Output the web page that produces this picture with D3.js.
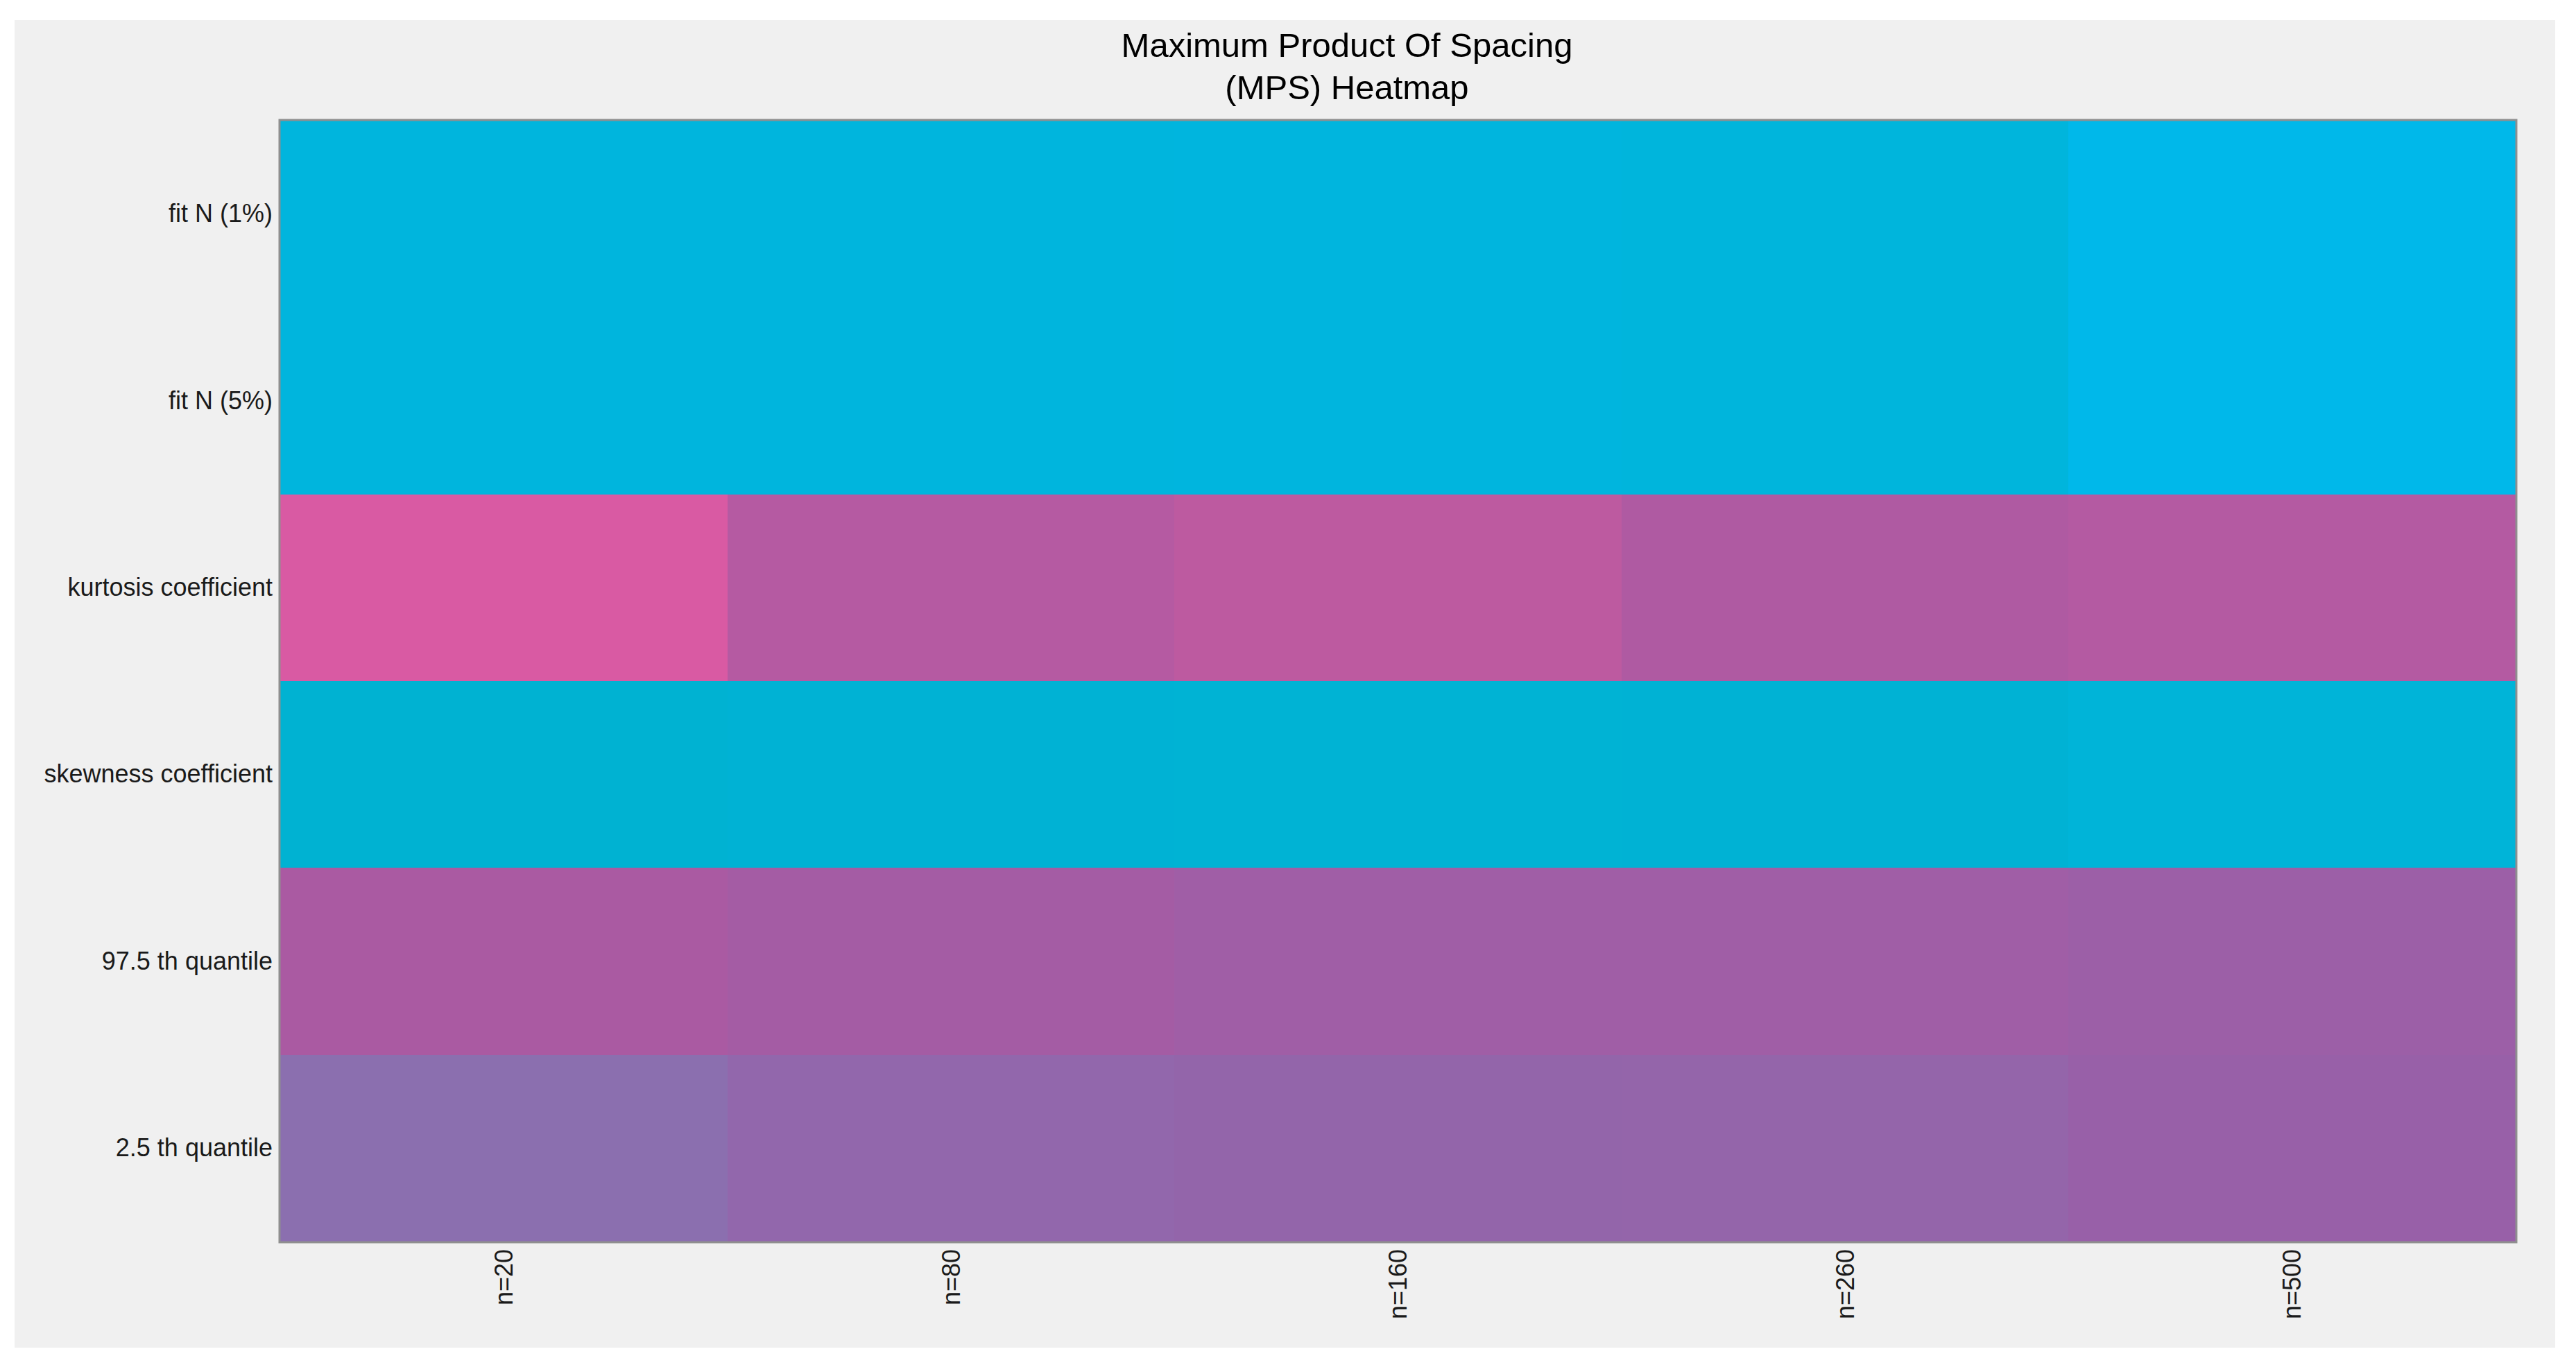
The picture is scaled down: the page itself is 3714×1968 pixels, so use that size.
<!DOCTYPE html>
<html>
<head>
<meta charset="utf-8">
<script src="https://cdn.jsdelivr.net/npm/d3@7"></script>
<style>
  body { margin: 0; background: #fff; }
  text { font-family: "Liberation Sans", Arial, sans-serif; }
</style>
</head>
<body>
<div id="container-heatmap"></div>
<script>
var sizes = ["n=20", "n=80", "n=160", "n=260", "n=500"];
var measures = ["fit N (1%)", "fit N (5%)", "kurtosis coefficient", "skewness coefficient", "97.5 th quantile", "2.5 th quantile"];

// one array per row, one value per sample size
var fitN1 = [0.055, 0.054, 0.050, 0.058, 0.0];
var fitN5 = [0.055, 0.054, 0.050, 0.058, 0.0];
var kurtosis = [1.0, 0.80, 0.85, 0.773, 0.795];
var skewness = [0.10, 0.092, 0.090, 0.092, 0.075];
var q975 = [0.75, 0.72, 0.70, 0.70, 0.65];
var q025 = [0.50, 0.55, 0.565, 0.568, 0.60];

var colorStops = [0, 0.10, 0.50, 0.60, 0.70, 0.75, 0.80, 0.85, 1.0];
var colorRange = ["#00b8ea", "#00b2d2", "#8b6faf", "#9860a8", "#a05ea6", "#aa5aa2", "#b55aa2", "#bd5aa0", "#d95aa3"];

function chartHeatmap(rows, width, height) {
  var svg = d3.select("#container-heatmap")
    .append("svg")
      .attr("width", width)
      .attr("height", height);

  svg.append("rect")
    .attr("x", 21).attr("y", 29)
    .attr("width", 3663).attr("height", 1914)
    .attr("fill", "#f0f0f0");

  var x = d3.scaleBand()
    .domain(sizes)
    .range([404, 3627]);
  var y = d3.scaleBand()
    .domain(measures)
    .range([174, 1790]);
  var color = d3.scaleLinear()
    .domain(colorStops)
    .range(colorRange);

  var cells = [];
  rows.forEach((r, i) => r.forEach((v, j) => cells.push({ row: measures[i], col: sizes[j], value: v })));

  svg.append("g")
    .attr("shape-rendering", "crispEdges")
    .selectAll("rect")
    .data(cells)
    .join("rect")
      .attr("x", d => Math.round(x(d.col)))
      .attr("y", d => Math.round(y(d.row)))
      .attr("width", d => Math.round(x(d.col) + x.bandwidth()) - Math.round(x(d.col)))
      .attr("height", d => Math.round(y(d.row) + y.bandwidth()) - Math.round(y(d.row)))
      .attr("fill", d => color(d.value));

  svg.append("rect")
    .attr("x", 403).attr("y", 173)
    .attr("width", 3225).attr("height", 1618)
    .attr("fill", "none")
    .attr("stroke", "#8f8f8f")
    .attr("stroke-width", 3);

  var yAxis = svg.append("g")
    .attr("transform", "translate(403,0)")
    .call(d3.axisLeft(y).tickSize(0).tickPadding(10));
  yAxis.select(".domain").remove();
  yAxis.selectAll("text")
    .attr("font-size", 36)
    .attr("font-family", "Liberation Sans, Arial, sans-serif")
    .attr("fill", "#1a1a1a");

  var xAxis = svg.append("g")
    .attr("transform", "translate(0,1791)")
    .call(d3.axisBottom(x).tickSize(0));
  xAxis.select(".domain").remove();
  xAxis.selectAll("text")
    .attr("font-size", 36)
    .attr("font-family", "Liberation Sans, Arial, sans-serif")
    .attr("fill", "#1a1a1a")
    .attr("text-anchor", "end")
    .attr("transform", "translate(0,10) rotate(-90)")
    .attr("x", 0)
    .attr("y", 0)
    .attr("dy", "0.35em");

  var title = svg.append("text")
    .attr("x", 1942)
    .attr("text-anchor", "middle")
    .attr("font-size", 49)
    .attr("fill", "#000");
  title.append("tspan").attr("x", 1942).attr("y", 82).text("Maximum Product Of Spacing");
  title.append("tspan").attr("x", 1942).attr("y", 143).text("(MPS) Heatmap");
}

chartHeatmap([fitN1, fitN5, kurtosis, skewness, q975, q025], 3714, 1968);
</script>
</body>
</html>
